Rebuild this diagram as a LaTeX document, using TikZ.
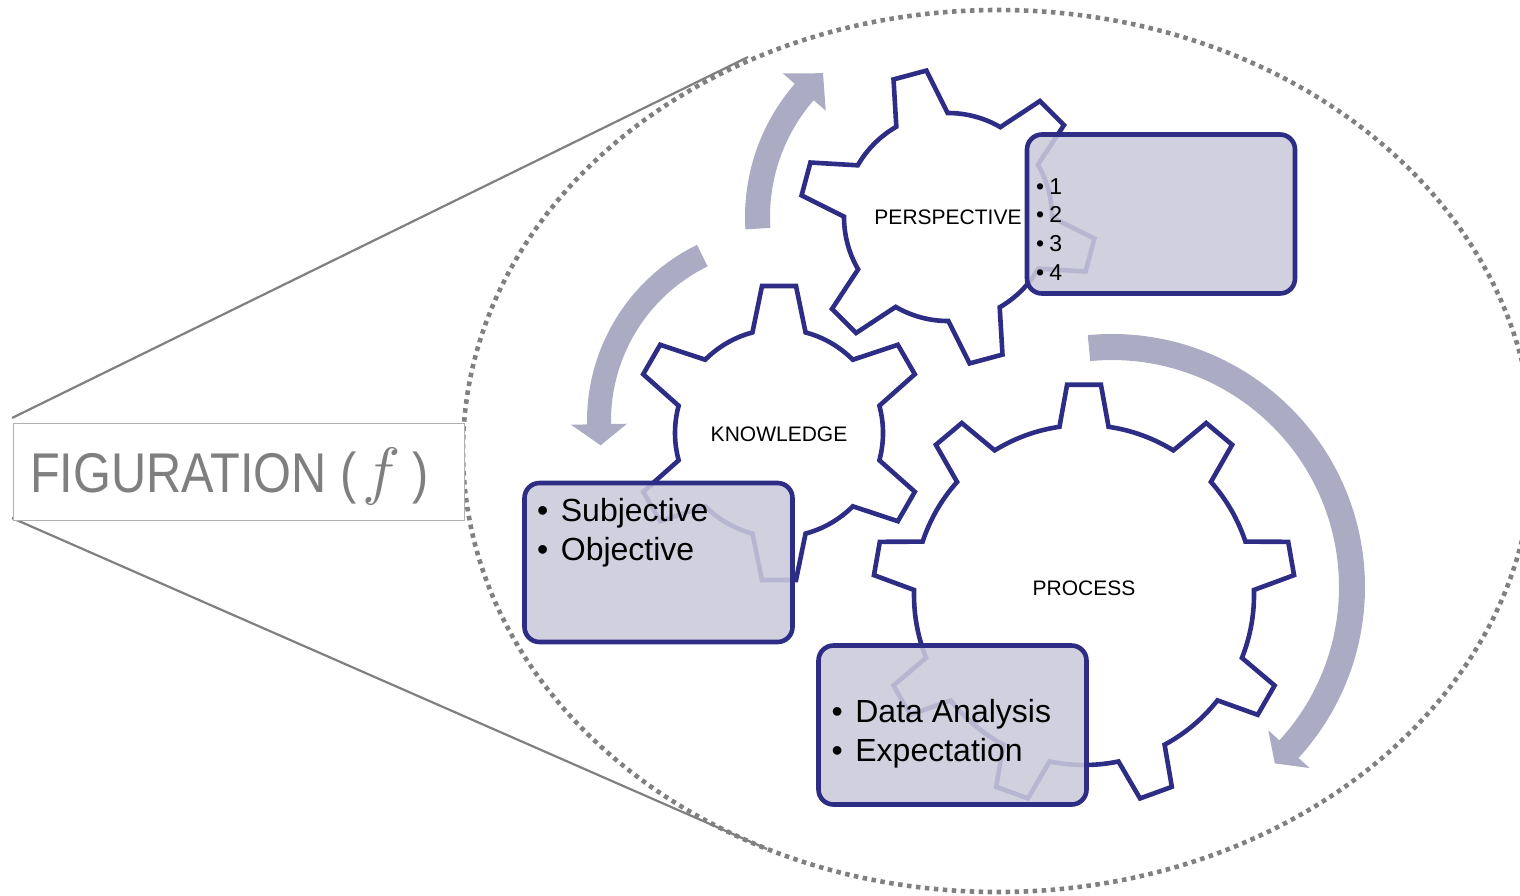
\documentclass[tikz,border=0pt]{standalone}
\usepackage{fontspec}
\setmainfont{Liberation Sans}
\usepackage{graphicx}
\definecolor{navy}{HTML}{2D2D86}
\definecolor{arrowc}{HTML}{ABACC3}
\definecolor{boxfill}{HTML}{CACADB}
\definecolor{dotgray}{HTML}{808080}
\definecolor{txtgray}{HTML}{7F7F7F}
\definecolor{figborder}{HTML}{B0B0B0}
\tikzset{
  gearline/.style={draw=navy, line width=4.6pt, fill=white, line join=miter},
  flowarrow/.style={fill=arrowc, draw=none},
  infobox/.style={draw=navy, line width=4.6pt, fill=boxfill, fill opacity=0.88, draw opacity=1, text opacity=1, rounded corners=15pt, inner sep=0pt},
  dotline/.style={draw=dotgray, line width=4.6pt, dash pattern=on 4.5pt off 4.5pt},
  callout/.style={draw=dotgray, line width=2.2pt},
  figbox/.style={draw=figborder, line width=1.2pt, fill=white, inner sep=0pt},
  gearlabel/.style={font=\fontsize{21}{25}\selectfont, inner sep=0pt, text=black},
  bigitem/.style={font=\fontsize{32}{38}\selectfont, inner sep=0pt, anchor=base west, text=black},
  smallitem/.style={font=\fontsize{23}{27}\selectfont, inner sep=0pt, anchor=base west, text=black},
}
% cx cy n R r start ho hr
\newcommand{\gearshape}[8]{%
  \pgfmathsetmacro{\gstep}{360/#3}%
  \filldraw[gearline, shift={(#1,#2)}] ({#6-#8}:#5)
  \foreach \k in {1,...,#3}{
    -- ({#6+(\k-1)*\gstep-#8}:#5) -- ({#6+(\k-1)*\gstep-#7}:#4)
    -- ({#6+(\k-1)*\gstep+#7}:#4) -- ({#6+(\k-1)*\gstep+#8}:#5)
    arc[start angle={#6+(\k-1)*\gstep+#8}, end angle={#6+\k*\gstep-#8}, radius=#5]
  } -- cycle;}
% cx cy rmid hw tail base tip barb
\newcommand{\bendarrow}[8]{%
  \fill[flowarrow, shift={(#1,#2)}] ({#5}:{#3+#4})
    arc[start angle=#5, end angle=#6, radius={#3+#4}]
    -- ({#6}:{#3+#8}) -- ({#7}:{#3}) -- ({#6}:{#3-#8}) -- ({#6}:{#3-#4})
    arc[start angle=#6, end angle=#5, radius={#3-#4}] -- cycle;}
\begin{document}
\begin{tikzpicture}[x=1pt,y=1pt]
\useasboundingbox (0,0) rectangle (1520,-895);
\clip (0,0) rectangle (1520,-895);

% zoom ellipse and callout
\draw[dotline] (998,-451) ellipse [x radius=535, y radius=441];
\coordinate (ft) at (12,-418);
\coordinate (fb) at (12,-518);
\coordinate (et) at (748,-57);
\coordinate (eb) at (767,-849);
\draw[callout] (ft) -- (et);
\draw[callout] (fb) -- (eb);
\node[figbox, minimum width=451pt, minimum height=97pt, anchor=north west] (fig) at (12.5,-423) {};
\node[inner sep=0pt, anchor=base west, text=txtgray, font=\fontsize{56}{60}\selectfont] (figtext) at (30,-492)
  {\scalebox{0.87}[1]{FIGURATION (}\hspace{6pt}\scalebox{6.4}{\normalsize$f$}\hspace{12pt}\scalebox{0.87}[1]{)}};

% rotation arrows
\bendarrow{948}{-217}{190.5}{12.5}{183.5}{139}{131}{28.5}
\bendarrow{783}{-421}{184}{12}{116}{181}{187.6}{28}
\bendarrow{1112}{-587}{240}{13}{95.5}{-42.5}{-47.3}{28}

% gears
\gearshape{948}{-217}{6}{148}{104}{45}{6.6}{14.8}
\gearshape{779}{-433}{6}{148}{104}{90}{6.6}{14.8}
\gearshape{1084}{-595}{9}{211}{170}{90}{4.6}{8.3}
\node[gearlabel] (gp) at (948,-217) {PERSPECTIVE};
\node[gearlabel] (gk) at (779,-434) {KNOWLEDGE};
\node[gearlabel] (gr) at (1084,-588) {PROCESS};

% info boxes
\node[infobox, minimum width=268pt, minimum height=159pt] (bk) at (658.5,-562.5) {};
\node[infobox, minimum width=268pt, minimum height=159pt] (bp) at (1161,-214) {};
\node[infobox, minimum width=268pt, minimum height=159pt] (br) at (952.5,-725) {};

\node[bigitem] (k1) at (537,-521) {•\hspace{12.5pt}Subjective};
\node[bigitem] (k2) at (537,-560) {•\hspace{12.5pt}Objective};
\node[bigitem] (r1) at (831.5,-722) {•\hspace{12.5pt}Data Analysis};
\node[bigitem] (r2) at (831.5,-761) {•\hspace{12.5pt}Expectation};
\node[smallitem] (p1) at (1036,-194) {•\hspace{5pt}1};
\node[smallitem] (p2) at (1036,-222.7) {•\hspace{5pt}2};
\node[smallitem] (p3) at (1036,-251.4) {•\hspace{5pt}3};
\node[smallitem] (p4) at (1036,-280) {•\hspace{5pt}4};
\end{tikzpicture}
\end{document}
